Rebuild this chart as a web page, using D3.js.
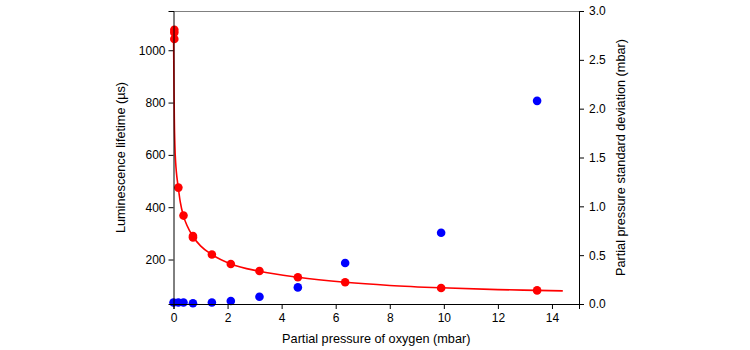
<!DOCTYPE html>
<html><head><meta charset="utf-8">
<script src="https://cdn.jsdelivr.net/npm/d3@7"></script>
<style>body{margin:0;background:#fff}svg{display:block}text{font-family:"Liberation Sans",Arial,sans-serif}</style>
</head><body><svg id="c" width="750" height="350"></svg>
<script>
// Measured data
const lifetimeX = [0.03, 0.03, 0.03, 0.18, 0.37, 0.72, 0.72, 1.42, 2.12, 3.18, 4.6, 6.35, 9.9, 13.45];
const lifetimeY = [1078, 1068, 1043, 475, 368, 290, 284, 219, 183, 156, 132, 113, 91, 82];
const sdX = [0, 0.18, 0.37, 0.72, 1.42, 2.12, 3.18, 4.6, 6.35, 9.9, 13.45];
const sdY = [0.015, 0.015, 0.015, 0.008, 0.015, 0.03, 0.075, 0.17, 0.42, 0.73, 2.08];
// Fitted curve
const fitX = [0, 0.01, 0.02, 0.03, 0.05, 0.08, 0.11, 0.15, 0.18, 0.25, 0.37, 0.5, 0.72, 1.0, 1.42, 2.12, 3.18, 4.6, 6.35, 8.0, 9.9, 12.0, 13.45, 14.4];
const fitY = [1090, 960, 840, 740, 640, 570, 530, 495, 472, 420, 366, 330, 288, 252, 219, 183, 155, 132, 113, 101, 92, 85, 82, 80];
const xTicks = [0, 2, 4, 6, 8, 10, 12, 14];
const yTicks = [200, 400, 600, 800, 1000];
const y2Ticks = [0, 0.5, 1.0, 1.5, 2.0, 2.5, 3.0];

const L = 173.5, R = 579, T = 11, B = 304;
const svg = d3.select("#c");
const x = d3.scaleLinear().domain([0, 15]).range([L, R]);
const y = d3.scaleLinear().domain([30, 1150]).range([B, T]);
const y2 = d3.scaleLinear().domain([0, 3]).range([B, T]);

// top border
svg.append("line").attr("x1", L).attr("x2", R).attr("y1", T + 0.5).attr("y2", T + 0.5)
  .attr("stroke", "#808080").attr("stroke-width", 1);

// curve
const line = d3.line().x((d, i) => x(fitX[i])).y((d, i) => y(fitY[i])).curve(d3.curveMonotoneX);
svg.append("path").datum(fitX).attr("d", line).attr("fill", "none")
  .attr("stroke", "#ff0000").attr("stroke-width", 1.6);

// red points
svg.append("g").selectAll("circle").data(lifetimeX).join("circle")
  .attr("cx", (d) => x(d)).attr("cy", (d, i) => y(lifetimeY[i])).attr("r", 4.3).attr("fill", "#ff0000");
// blue points
svg.append("g").selectAll("circle").data(sdX).join("circle")
  .attr("cx", (d) => x(d)).attr("cy", (d, i) => y2(sdY[i])).attr("r", 4.3).attr("fill", "#0000ff");

function style(g) {
  g.selectAll("path").attr("stroke", "#000");
  g.selectAll("line").attr("stroke", "#000");
  g.selectAll("text").attr("font-size", 12).attr("fill", "#000").style("font-family", '"Liberation Sans",Arial,sans-serif');
}
const gx = svg.append("g").attr("transform", `translate(0,${B})`)
  .call(d3.axisBottom(x).tickValues(xTicks).tickSizeOuter(0).tickSize(5).tickPadding(4).tickFormat(d3.format("d")));
style(gx);
const gy = svg.append("g").attr("transform", `translate(${L},0)`)
  .call(d3.axisLeft(y).tickValues(yTicks).tickSizeOuter(0).tickSize(5).tickPadding(3).tickFormat(d3.format("d")));
style(gy);
const gy2 = svg.append("g").attr("transform", `translate(${R},0)`)
  .call(d3.axisRight(y2).tickValues(y2Ticks).tickSizeOuter(0).tickSize(5).tickPadding(5).tickFormat(d3.format(".1f")));
style(gy2);

svg.append("text").attr("x", (L + R) / 2).attr("y", 343).attr("text-anchor", "middle")
  .attr("font-size", 12.7).text("Partial pressure of oxygen (mbar)");
svg.append("text").attr("transform", `translate(125,${(T + B) / 2}) rotate(-90)`).attr("text-anchor", "middle")
  .attr("font-size", 12.7).text("Luminescence lifetime (µs)");
svg.append("text").attr("transform", `translate(624.5,${(T + B) / 2}) rotate(-90)`).attr("text-anchor", "middle")
  .attr("font-size", 12.7).text("Partial pressure standard deviation (mbar)");
</script></body></html>
